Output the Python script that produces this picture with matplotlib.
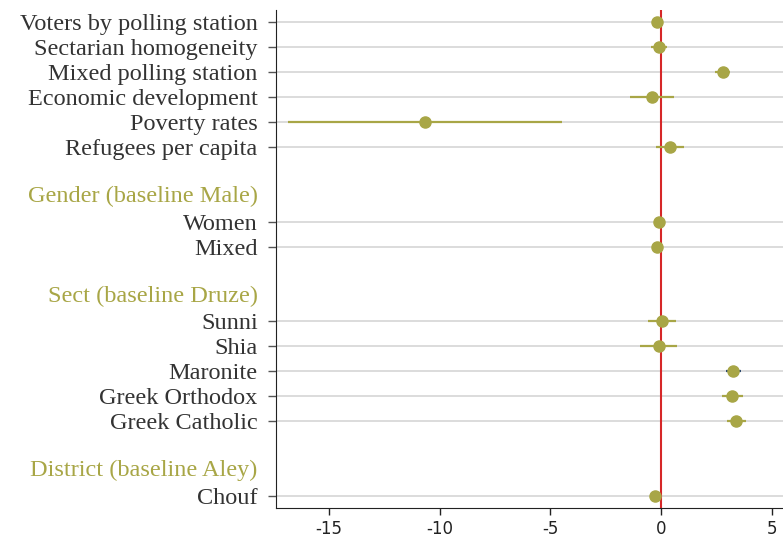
import numpy as np
import matplotlib.pyplot as plt
from matplotlib.transforms import offset_copy

# Row labels from top to bottom; "" = blank spacer, headers kept separately
labels = ["Voters by polling station", "Sectarian homogeneity", "Mixed polling station",
          "Economic development", "Poverty rates", "Refugees per capita", "",
          "Gender (baseline Male)", "Women", "Mixed", "",
          "Sect (baseline Druze)", "Sunni", "Shia", "Maronite", "Greek Orthodox", "Greek Catholic", "",
          "District (baseline Aley)", "Chouf"]
headers = ["Gender (baseline Male)", "Sect (baseline Druze)", "District (baseline Aley)"]

# Coefficients and confidence intervals (variable rows only, same order)
coef = [-0.21, -0.10, 2.77, -0.42, -10.67, 0.39,
        -0.08, -0.18,
        0.03, -0.12, 3.26, 3.20, 3.37,
        -0.27]
ci_low = [-0.30, -0.45, 2.44, -1.40, -16.83, -0.23,
          -0.10, -0.20,
          -0.59, -0.95, 2.93, 2.75, 2.97,
          -0.30]
ci_high = [-0.12, 0.26, 3.13, 0.57, -4.48, 1.02,
           -0.06, -0.16,
           0.66, 0.72, 3.61, 3.69, 3.81,
           -0.24]

olive = "#a8a646"
text_col = "#333333"
label_font = ["Liberation Serif", "DejaVu Serif"]
fs = 17.5

fig = plt.figure(figsize=(7.83, 5.38), dpi=100)
ax = fig.add_axes([275.7 / 783, 30 / 538, 1 - 275.7 / 783, 498 / 538])

var_rows = [i for i, l in enumerate(labels) if l and l not in headers]
var_names = [labels[i] for i in var_rows]

for k, r in enumerate(var_rows):
    ax.axhline(r, color="#d9d9d9", lw=1.3, zorder=0)
    col = "#2f4b6e" if var_names[k] == "Maronite" else olive
    ax.plot([ci_low[k], ci_high[k]], [r, r], color=col, lw=1.6, zorder=2, solid_capstyle="butt")
    ax.plot(coef[k], r, "o", color=olive, ms=8, zorder=3)

ax.axvline(0, color="#d62728", lw=1.5, zorder=1)

ax.set_xlim(-17.4, 5.5)
ax.set_ylim(19.5, -0.5)
ax.set_xticks([-15, -10, -5, 0, 5])
ax.set_xticklabels(["-15", "-10", "-5", "0", "5"])
ax.tick_params(axis="x", labelsize=12, length=5, width=1, colors="#222222")
ax.set_yticks(var_rows)
ax.set_yticklabels(var_names, fontfamily=label_font, fontsize=fs, color=text_col)
ax.tick_params(axis="y", length=6, width=1, color="#555555", pad=7)

# group headers, right-aligned with the tick labels
tr = offset_copy(ax.get_yaxis_transform(), fig=fig, x=-13, y=0, units="points")
for h in headers:
    ax.text(0, labels.index(h), h, transform=tr,
            ha="right", va="center", fontfamily=label_font, fontsize=fs, color=olive)

for s in ["top", "right"]:
    ax.spines[s].set_visible(False)
ax.spines["left"].set_color("#222222")
ax.spines["bottom"].set_color("#222222")

fig.savefig("out.png", dpi=100)
